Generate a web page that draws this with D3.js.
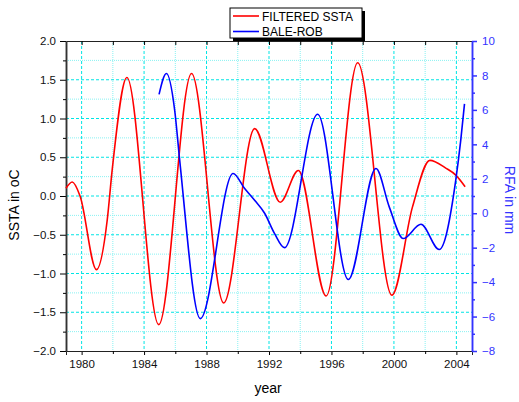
<!DOCTYPE html>
<html>
<head>
<meta charset="utf-8">
<script src="https://cdn.jsdelivr.net/npm/d3@7"></script>
<style>
  body { margin: 0; background: #fff; }
  svg { display: block; font-family: "Liberation Sans", Arial, sans-serif; }
</style>
</head>
<body>
<div class="chart"></div>
<script>
// filtered SSTA (left axis, oC)
var sstaYears = [1979.0, 1979.4, 1979.9, 1980.95, 1981.64, 1981.96, 1982.9, 1984.94, 1987.04, 1989.1,
                 1991.08, 1992.72, 1993.88, 1995.66, 1997.68, 1999.87, 2001.19, 2002.3, 2003.32, 2003.96, 2004.56];
var sstaValues = [0.1, 0.18, 0.0, -0.95, -0.31, 0.34, 1.53, -1.66, 1.58, -1.38,
                  0.87, -0.08, 0.33, -1.29, 1.72, -1.28, -0.14, 0.46, 0.36, 0.27, 0.12];

// Bale-Rob rainfall anomaly (right axis, mm)
var rfaYears = [1984.96, 1985.43, 1985.96, 1986.28, 1987.6, 1989.7, 1990.44, 1991.08, 1991.72, 1992.35,
                1992.99, 1995.12, 1997.08, 1998.85, 1999.7, 2000.6, 2001.73, 2002.9, 2003.96, 2004.28, 2004.52];
var rfaValues = [6.9, 8.11, 5.98, 3.08, -6.12, 2.31, 1.43, 0.75, 0.0, -1.17,
                 -2.0, 5.75, -3.85, 2.6, 0.37, -1.47, -0.64, -2.11, 1.92, 4.24, 6.35];

var yearTicks = [1980, 1984, 1988, 1992, 1996, 2000, 2004];
var sstaTicks = [-2.0, -1.5, -1.0, -0.5, 0.0, 0.5, 1.0, 1.5, 2.0];
var rfaTicks = [-8, -6, -4, -2, 0, 2, 4, 6, 8, 10];
var seriesNames = ["FILTERED SSTA", "BALE-ROB"];

var width = 519, height = 402;
var plotLeft = 66, plotRight = 472, plotTop = 41, plotBottom = 351;
var blue = "#3333ff";

var svg = d3.select(".chart").append("svg")
  .attr("width", width)
  .attr("height", height);

var x = d3.scaleLinear().domain([1979, 2005]).range([plotLeft, plotRight]);
var y = d3.scaleLinear().domain([-2, 2]).range([plotBottom, plotTop]);
var y2 = d3.scaleLinear().domain([-8, 10]).range([plotBottom, plotTop]);

// grid
var grid = svg.append("g");
d3.range(1980, 2005, 2).forEach(function(yr) {
  var major = yr % 4 == 0;
  grid.append("line")
    .attr("x1", x(yr)).attr("x2", x(yr))
    .attr("y1", plotTop).attr("y2", plotBottom)
    .attr("stroke", major ? "#00e5e5" : "#88f2f2")
    .attr("stroke-width", 1)
    .attr("stroke-dasharray", major ? "3,2" : "1,1");
});
d3.range(-1.75, 2, 0.25).forEach(function(v) {
  var major = Math.abs(v * 2 - Math.round(v * 2)) < 1e-6;
  grid.append("line")
    .attr("x1", plotLeft).attr("x2", plotRight)
    .attr("y1", y(v)).attr("y2", y(v))
    .attr("stroke", major ? "#00e5e5" : "#88f2f2")
    .attr("stroke-width", 1)
    .attr("stroke-dasharray", major ? "3,2" : "1,1");
});

// axes
var xAxis = d3.axisBottom(x).tickValues(yearTicks).tickFormat(d3.format("d")).tickSizeOuter(0).tickSize(4).tickPadding(5);
var gx = svg.append("g").attr("transform", "translate(0," + plotBottom + ")").call(xAxis);
gx.append("g").call(d3.axisBottom(x).tickValues(d3.range(1982, 2005, 4)).tickFormat("").tickSize(3).tickSizeOuter(0));

var gxTop = svg.append("g").attr("transform", "translate(0," + plotTop + ")")
  .call(d3.axisTop(x).tickValues(d3.range(1980, 2005, 2)).tickFormat("").tickSize(-4).tickSizeOuter(0));

var gy = svg.append("g").attr("transform", "translate(" + plotLeft + ",0)")
  .call(d3.axisLeft(y).tickValues(sstaTicks).tickFormat(d3.format(".1f")).tickSize(6).tickSizeOuter(0).tickPadding(4));
gy.append("g").call(d3.axisLeft(y).tickValues(d3.range(-1.75, 2, 0.5)).tickFormat("").tickSize(3).tickSizeOuter(0));

var gy2 = svg.append("g").attr("transform", "translate(" + plotRight + ",0)")
  .call(d3.axisRight(y2).tickValues(rfaTicks).tickSize(5).tickSizeOuter(0).tickPadding(5));
gy2.append("g").call(d3.axisRight(y2).tickValues(d3.range(-7, 10, 2)).tickFormat("").tickSize(3).tickSizeOuter(0));

svg.selectAll(".tick text").attr("font-size", "11.5px").attr("font-family", "Liberation Sans, Arial, sans-serif").attr("fill", "#111");
gy2.selectAll(".domain, line").attr("stroke", blue).attr("stroke-width", 1.5);
gy2.selectAll(".tick text").attr("fill", blue);
gy.selectAll(".domain").attr("stroke", "#333").attr("stroke-width", 1.5);
gx.selectAll(".domain").attr("stroke", "#222");
gxTop.selectAll(".domain").attr("stroke", "#222");

// axis titles
svg.append("text")
  .attr("transform", "translate(19,205) rotate(-90)")
  .attr("text-anchor", "middle")
  .attr("font-size", "14px")
  .text("SSTA in oC");
svg.append("text")
  .attr("x", 268).attr("y", 393)
  .attr("text-anchor", "middle")
  .attr("font-size", "14px")
  .text("year");
svg.append("text")
  .attr("transform", "translate(505,200) rotate(90)")
  .attr("text-anchor", "middle")
  .attr("font-size", "14px")
  .attr("fill", blue)
  .text("RFA in mm");

// curves
var sstaLine = d3.line()
  .x(function(d, i) { return x(sstaYears[i]); })
  .y(function(d) { return y(d); })
  .curve(d3.curveMonotoneX);
var rfaLine = d3.line()
  .x(function(d, i) { return x(rfaYears[i]); })
  .y(function(d) { return y2(d); })
  .curve(d3.curveMonotoneX);

svg.append("path")
  .attr("d", sstaLine(sstaValues))
  .attr("fill", "none")
  .attr("stroke", "#ff0000")
  .attr("stroke-width", 1.6);
svg.append("path")
  .attr("d", rfaLine(rfaValues))
  .attr("fill", "none")
  .attr("stroke", "#0000ff")
  .attr("stroke-width", 1.6);

// legend
var legend = svg.append("g");
legend.append("rect").attr("x", 233).attr("y", 11).attr("width", 132).attr("height", 30).attr("fill", "#000");
legend.append("rect").attr("x", 230).attr("y", 8).attr("width", 132).attr("height", 30)
  .attr("fill", "#fff").attr("stroke", "#000").attr("stroke-width", 1);
var legendColors = ["#ff0000", "#0000ff"];
seriesNames.forEach(function(name, i) {
  var ly = 16 + i * 15.5;
  legend.append("line").attr("x1", 233).attr("x2", 259).attr("y1", ly).attr("y2", ly)
    .attr("stroke", legendColors[i]).attr("stroke-width", 1.6);
  legend.append("text").attr("x", 262).attr("y", ly + 4.5)
    .attr("font-size", "12px").text(name);
});
</script>
</body>
</html>
